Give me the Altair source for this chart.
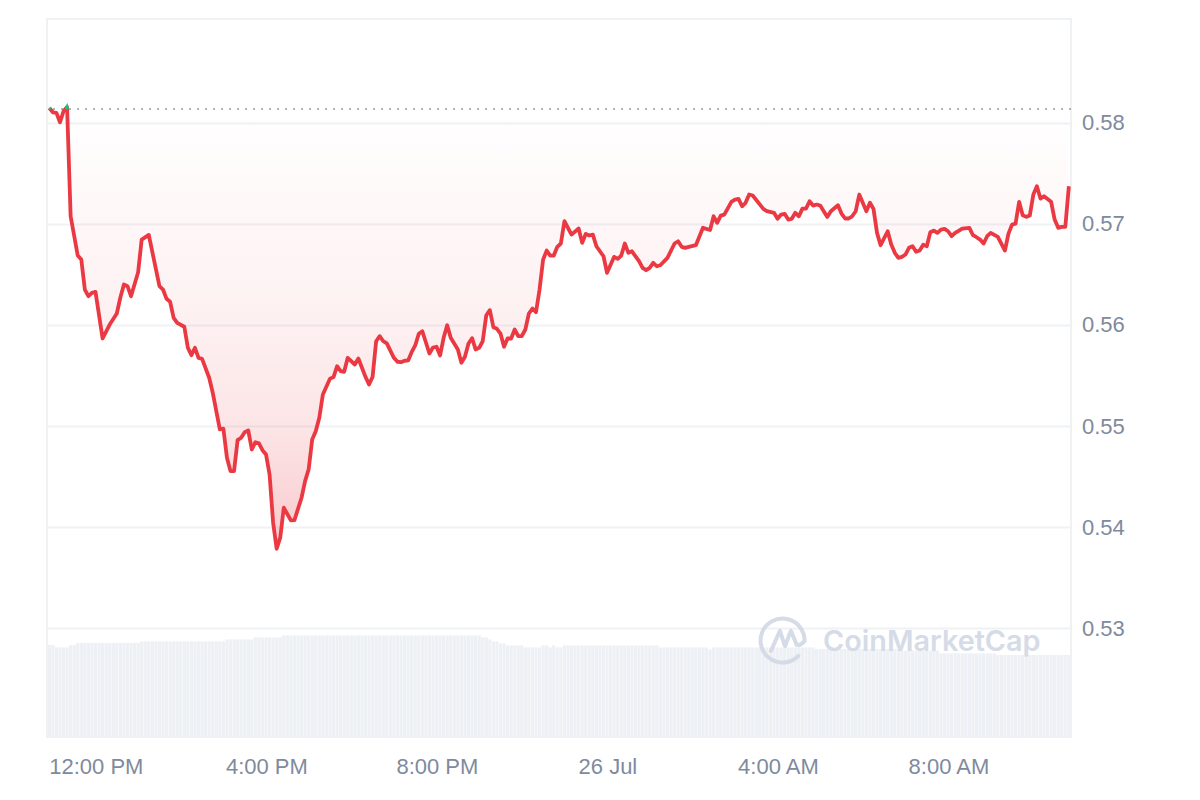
import altair as alt
import pandas as pd

slots = [0,1,2,3,4,5,6,8,9,10,11,12,13,15,17,19,20,21,22,23,25,26,28,31,32,33,34,35,36,38,39,40,41,42,43,45,46,48,49,50,51,52,53,54,55,56,57,58,59,60,61,62,63,64,65,66,68,69,71,72,73,74,75,76,77,79,80,81,82,83,84,86,87,89,90,91,92,93,94,95,97,98,99,100,101,102,103,104,105,107,108,109,110,111,112,113,115,116,117,118,119,120,121,122,123,124,125,126,127,128,129,130,131,132,133,134,135,136,137,138,139,140,141,142,143,144,145,147,149,150,151,152,153,154,156,157,159,160,161,162,163,164,166,167,168,169,170,171,172,174,176,177,178,179,180,182,184,186,187,188,189,190,192,193,194,195,196,197,198,201,202,204,205,206,207,208,209,210,211,212,213,214,215,216,217,219,220,222,223,224,225,226,227,228,230,231,232,233,234,236,237,238,239,240,241,242,243,244,245,246,247,248,249,250,251,252,253,254,255,257,259,260,261,262,263,264,265,267,269,270,271,272,273,274,275,276,277,278,279,280,282,283,284,285,286,287]
prices = [.58145,.58102,.58096,.58003,.58112,.58155,.57074,.56686,.56646,.5635,.56284,.56317,.56327,.55866,.56004,.56113,.56271,.564,.56383,.56284,.56521,.56844,.5689,.56383,.5635,.56258,.56229,.5607,.56021,.55982,.55774,.55701,.55774,.55675,.55665,.55478,.5533,.54967,.54974,.54687,.54555,.54555,.54861,.54885,.5494,.54957,.54769,.54841,.54829,.54762,.5472,.54522,.54045,.53788,.53897,.54193,.54068,.54071,.54292,.54456,.54572,.54868,.5495,.55082,.55313,.55468,.55484,.55592,.55543,.55537,.55675,.55609,.55668,.55487,.55411,.55487,.55839,.55889,.55839,.55817,.55675,.55636,.55632,.55646,.55649,.55731,.55797,.55912,.55938,.55718,.55777,.55784,.55698,.55873,.55997,.55873,.55757,.55626,.55685,.55817,.55869,.55757,.55774,.55839,.56096,.56146,.55978,.55962,.55915,.55784,.55866,.55866,.55955,.55889,.55889,.55955,.56113,.56162,.56126,.5635,.56646,.56735,.56686,.56686,.56772,.56805,.57025,.56893,.56953,.56811,.569,.56884,.56893,.56778,.56679,.56515,.56673,.56653,.56686,.56805,.56713,.56728,.5663,.56564,.56541,.56564,.56614,.5658,.5659,.56663,.56805,.56827,.56772,.56762,.56772,.56788,.5696,.56938,.57074,.57009,.57081,.57091,.57217,.57239,.57246,.57173,.57207,.57289,.57279,.57147,.57124,.57108,.57049,.57091,.57098,.57042,.57049,.57108,.57074,.5715,.5715,.57222,.5718,.5719,.5718,.57068,.57124,.57183,.57101,.57052,.57052,.57074,.57124,.57289,.57124,.57207,.57147,.5691,.56788,.56926,.56795,.56713,.56663,.56673,.56696,.56762,.56778,.56723,.56735,.56792,.56778,.56916,.56933,.5691,.56943,.5695,.56926,.56877,.5691,.56953,.5696,.56887,.56867,.56844,.56805,.56877,.5691,.56871,.56735,.56903,.56992,.57002,.57217,.57084,.57068,.57081,.57289,.57371,.57249,.57272,.57217,.57042,.5696,.5697,.5697,.57371]

vol_counts = [2,4,2,18,24,8,8,56,2,1,2,2,5,5,2,1,1,2,27,14,1,29,24,11,16,21]
vol_levels = [23.0,22.4,23.0,23.5,23.9,24.4,24.9,25.4,24.9,24.4,23.9,23.4,22.9,22.4,22.9,22.4,22.9,22.4,22.9,22.4,21.9,22.4,22.0,21.6,20.9,20.5]

base_price = 0.58135
tip_groups = ["a", "a", "b", "b", "b"]
tip_slots = [0.0, 0.35, 4.75, 5.0, 5.2]
tip_prices = [0.58145, 0.58135, 0.58135, 0.58155, 0.58135]

tick_hours = [12, 16, 20, 24, 28, 32]
tick_labels = ["12:00 PM", "4:00 PM", "8:00 PM", "26 Jul", "4:00 AM", "8:00 AM"]
price_ticks = [0.53, 0.54, 0.55, 0.56, 0.57, 0.58]

RED = "#ea3943"
GREEN = "#16c784"
GRID = "#eff2f5"
LABEL = "#808a9d"
WM = "#d3dae6"
FONT = "Liberation Sans"


def hour(slot):
    return 12 + (slot - 13.1) / 12


df = pd.DataFrame({"hour": [hour(s) for s in slots], "price": prices})
df["base"] = base_price
vols = []
for n, v in zip(vol_counts, vol_levels):
    vols.extend([v] * n)
vdf = pd.DataFrame({"hour": [hour(i) for i in range(288)], "vol": vols})
tips = pd.DataFrame({"hour": [hour(s) for s in tip_slots], "price": tip_prices, "g": tip_groups})
base_df = pd.DataFrame({"base": [base_price]})
wm_df = pd.DataFrame({"name": ["CoinMarketCap"]})

xscale = alt.Scale(domain=[10.854, 34.875], nice=False, zero=False, padding=0)
yscale = alt.Scale(domain=[0.51927, 0.59024], nice=False, zero=False)
label_map = ",".join(f"'{h}':'{t}'" for h, t in zip(tick_hours, tick_labels))
xaxis = alt.Axis(values=tick_hours, labelExpr="({" + label_map + "})[datum.value]", title=None, grid=False,
                 ticks=False, domain=False, labelFont=FONT, labelFontSize=22, labelColor=LABEL, labelPadding=19,
                 labelOverlap=False, labelFlush=False)
yaxis = alt.Axis(values=price_ticks, format=".2f", orient="right", title=None, grid=True, gridColor=GRID, gridWidth=2,
                 ticks=False, domain=False, labelFont=FONT, labelFontSize=22, labelColor=LABEL, labelPadding=10.5)

X = alt.X("hour:Q", scale=xscale, axis=xaxis)

bars = alt.Chart(vdf).mark_bar(size=3.2, color="#edf0f4").encode(
    x=X,
    y=alt.Y("vol:Q", scale=alt.Scale(domain=[0, 179.5], nice=False), axis=None),
)

grad = alt.Gradient(
    gradient="linear", x1=0, x2=0, y1=0, y2=1,
    stops=[
        alt.GradientStop(offset=0, color="rgba(234,57,67,0)"),
        alt.GradientStop(offset=0.5, color="rgba(234,57,67,0.08)"),
        alt.GradientStop(offset=0.72, color="rgba(234,57,67,0.13)"),
        alt.GradientStop(offset=1, color="rgba(234,57,67,0.27)"),
    ],
)
area = alt.Chart(df).mark_area(color=grad).encode(
    x=X, y=alt.Y("price:Q", scale=yscale, axis=yaxis), y2="base:Q"
)
rule = alt.Chart(base_df).mark_rule(color="#9b9b9b", strokeWidth=1.6, strokeDash=[2, 6]).encode(
    y=alt.Y("base:Q", scale=yscale, axis=None)
)
line = alt.Chart(df).mark_line(color=RED, strokeWidth=3.8, strokeJoin="round").encode(
    x=X, y=alt.Y("price:Q", scale=yscale, axis=None)
)
tip = alt.Chart(tips).mark_line(color=GREEN, strokeWidth=3).encode(
    x=X, y=alt.Y("price:Q", scale=yscale, axis=None), detail="g:N"
)

logo_path = "M0.7 0.72 A1 1 0 1 1 0.98 0.05 Q0.8 0.28 0.62 0.22 L0.36 -0.42 L0.09 0.28 L-0.14 -0.42 L-0.55 0.5"
logo = alt.Chart(wm_df).mark_point(shape=logo_path, filled=False, stroke=WM, strokeWidth=4, size=1936,
                                   strokeJoin="round", strokeCap="round", opacity=0.95).encode(
    x=alt.value(736), y=alt.value(621)
)
word = alt.Chart(wm_df).mark_text(font="Inter", fontSize=28.8, fontWeight=600, color=WM, align="left",
                                  baseline="middle", opacity=0.95).encode(
    x=alt.value(776), y=alt.value(623), text="name:N"
)

chart = alt.layer(bars, area, rule, line, tip, logo, word).resolve_scale(y="independent").properties(
    width=1024, height=718,
    padding={"left": 39, "top": 11, "right": 120, "bottom": 55},
    autosize="none",
).configure_view(stroke=GRID, strokeWidth=2)

chart.save("out.html", embed_options={"renderer": "svg", "actions": False})
